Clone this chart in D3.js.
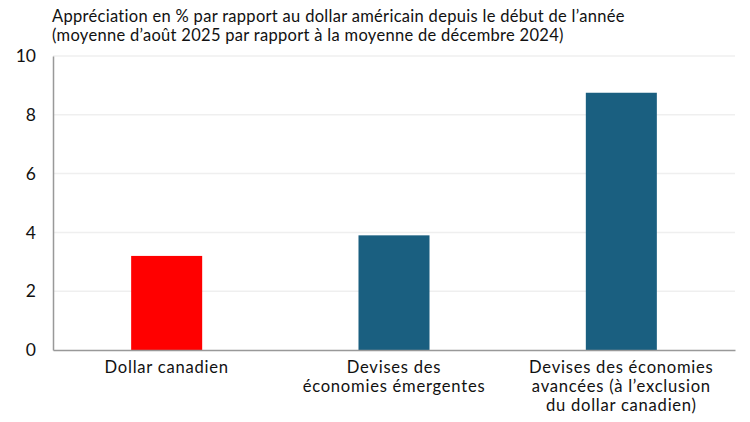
<!DOCTYPE html>
<html><head><meta charset="utf-8">
<script src="https://cdn.jsdelivr.net/npm/d3@7"></script>
<style>body{margin:0;background:#fff}svg{display:block}text{font-family:Lato,"Open Sans",sans-serif;fill:#111}</style>
</head><body>
<script>
const categories = [["Dollar canadien"],["Devises des","économies émergentes"],["Devises des économies","avancées (à l’exclusion","du dollar canadien)"]];
const values = [3.2, 3.9, 8.75];
const colors = ["#FF0000","#1A5F80","#1A5F80"];
const yTicks = [0,2,4,6,8,10];
const titleLines = ["Appréciation en % par rapport au dollar américain depuis le début de l’année","(moyenne d’août 2025 par rapport à la moyenne de décembre 2024)"];

const W=750,H=422, m={l:53,r:15,t:56,b:72};
const svg=d3.select("body").append("svg").attr("width",W).attr("height",H);
const x=d3.scaleBand().domain(d3.range(values.length)).range([m.l,W-m.r]).paddingInner(0.6876).paddingOuter(0.3438);
const y=d3.scaleLinear().domain([0,10]).range([H-m.b,m.t]);

svg.append("g").selectAll("line").data(yTicks.filter(d=>d>0)).join("line")
 .attr("x1",m.l).attr("x2",W-m.r).attr("y1",d=>y(d)).attr("y2",d=>y(d))
 .attr("stroke","#efefef").attr("stroke-width",1.5);

svg.append("g").selectAll("rect").data(values).join("rect")
 .attr("x",(d,i)=>x(i)).attr("width",x.bandwidth())
 .attr("y",d=>y(d)).attr("height",d=>y(0)-y(d)).attr("fill",(d,i)=>colors[i]);

const ya=svg.append("g").attr("transform",`translate(${m.l},0)`)
 .call(d3.axisLeft(y).tickValues(yTicks).tickSize(0).tickPadding(17));
ya.select(".domain").attr("stroke","#999").attr("stroke-width",1.5);
ya.selectAll("text").attr("font-size",17.5).attr("font-family","Lato").attr("fill","#111");

const xa=svg.append("g").attr("transform",`translate(0,${y(0)})`)
 .call(d3.axisBottom(x).tickSize(0).tickFormat(""));
xa.select(".domain").attr("stroke","#999").attr("stroke-width",1.5);
xa.selectAll(".tick").each(function(d){
  categories[d].forEach((s,k)=>d3.select(this).append("text").attr("fill","#111").attr("font-size",16.6)
    .attr("letter-spacing",0.75).attr("font-family","Lato").attr("text-anchor","middle")
    .attr("x",0).attr("y",23+k*19.2).text(s));
});

const tt=svg.append("text").attr("font-size",16.5).attr("letter-spacing",0.3);
titleLines.forEach((s,k)=>tt.append("tspan").attr("x",52).attr("y",22+k*19).text(s));
</script>
</body></html>
